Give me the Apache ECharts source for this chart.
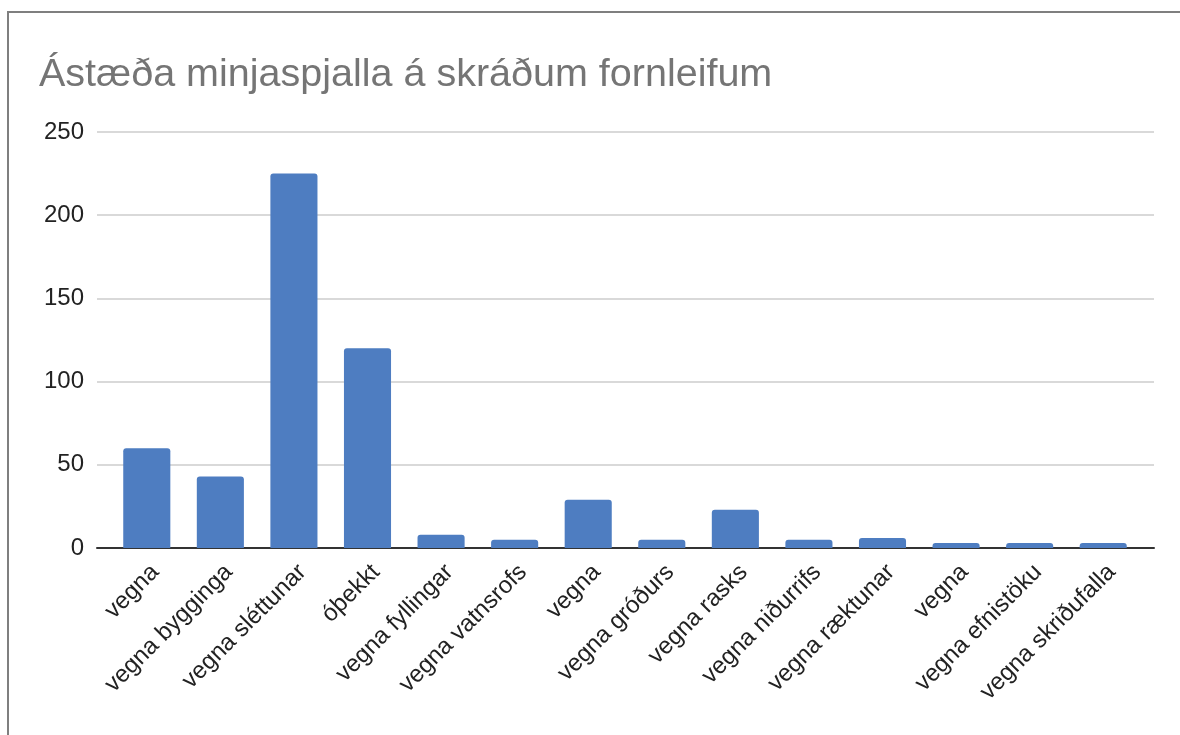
<!DOCTYPE html>
<html>
<head>
<meta charset="utf-8">
<title>Ástæða minjaspjalla á skráðum fornleifum</title>
<script src="https://cdn.jsdelivr.net/npm/echarts@6/dist/echarts.min.js"></script>
<style>
    html, body { margin: 0; padding: 0; background: #fff; overflow: hidden; }
    #frame {
        position: absolute; left: 7px; top: 11px;
        width: 1300px; height: 900px;
        border: 2px solid #7f7f7f;
    }
    #chart { position: absolute; left: 0; top: 0; width: 1180px; height: 735px; }
</style>
</head>
<body>
<div id="frame"></div>
<div id="chart"></div>
<script>
// 数据：类别、数值、y轴刻度
var categories = [
    'vegna', 'vegna bygginga', 'vegna sléttunar', 'óþekkt', 'vegna fyllingar',
    'vegna vatnsrofs', 'vegna', 'vegna gróðurs', 'vegna rasks', 'vegna niðurrifs',
    'vegna ræktunar', 'vegna', 'vegna efnistöku', 'vegna skriðufalla'
];
var values = [60, 43, 225, 120, 8, 5, 29, 5, 23, 5, 6, 3, 3, 3];
var yTicks = [0, 50, 100, 150, 200, 250];

var barColor = '#4e7dc1';
var labelColor = '#222222';
var font = 'Liberation Sans, Arial, sans-serif';

var myChart = echarts.init(document.getElementById('chart'));

var option = {
    animation: false,
    title: {
        text: 'Ástæða minjaspjalla á skráðum fornleifum',
        left: 39,
        top: 55,
        padding: 0,
        textStyle: {
            fontFamily: font,
            fontSize: 39.5,
            fontWeight: 'normal',
            color: '#757575'
        }
    },
    // grid 0: 网格线和坐标轴线（比柱子区域更宽）; grid 1: 柱子
    grid: [
        { left: 97, right: 26, top: 132, bottom: 187 },
        { left: 110, right: 40, top: 132, bottom: 187 }
    ],
    xAxis: [
        {
            gridIndex: 0,
            type: 'value',
            min: 0,
            max: 1,
            axisLine: { show: true, onZero: false, lineStyle: { color: '#333', width: 2 } },
            axisTick: { show: false },
            axisLabel: { show: false },
            splitLine: { show: false }
        },
        {
            gridIndex: 1,
            type: 'category',
            data: categories,
            axisLine: { show: false },
            axisTick: { show: false },
            axisLabel: {
                rotate: 45,
                interval: 0,
                margin: 12,
                verticalAlign: 'top',
                fontFamily: font,
                fontSize: 24,
                color: labelColor
            }
        }
    ],
    yAxis: [
        {
            gridIndex: 0,
            type: 'value',
            min: yTicks[0],
            max: yTicks[yTicks.length - 1],
            interval: yTicks[1] - yTicks[0],
            axisLine: { show: false },
            axisTick: { show: false },
            axisLabel: {
                margin: 13,
                fontFamily: font,
                fontSize: 24,
                color: labelColor
            },
            splitLine: { lineStyle: { color: '#cccccc', width: 1.5 } }
        },
        {
            gridIndex: 1,
            type: 'value',
            min: yTicks[0],
            max: yTicks[yTicks.length - 1],
            show: false,
            splitLine: { show: false }
        }
    ],
    series: [{
        type: 'bar',
        xAxisIndex: 1,
        yAxisIndex: 1,
        data: values,
        barCategoryGap: '36%',
        itemStyle: {
            color: barColor,
            borderRadius: [3, 3, 0, 0]
        }
    }]
};

myChart.setOption(option);
</script>
</body>
</html>
